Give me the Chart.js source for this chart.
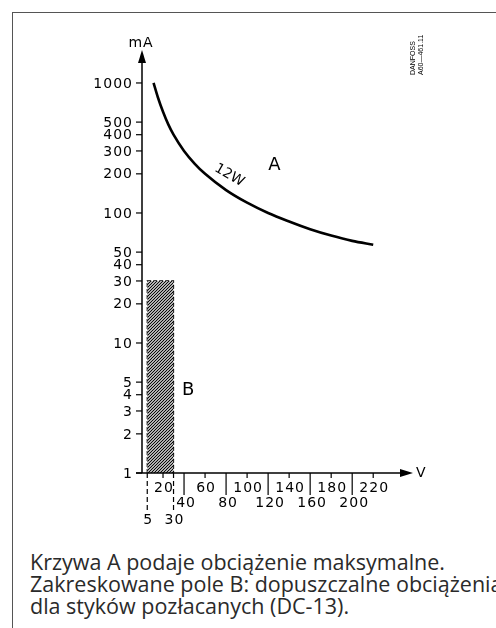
<!DOCTYPE html>
<html>
<head>
<meta charset="utf-8">
<script src="https://cdn.jsdelivr.net/npm/chart.js@4"></script>
<style>
html, body { margin: 0; padding: 0; background: #fff; }
#wrap { position: relative; width: 496px; height: 628px; overflow: hidden; }
#frame { position: absolute; left: 12px; top: 12px; width: 520px; height: 640px;
  border-top: 1.5px solid #555; border-left: 1.5px solid #555; }
#chart { position: absolute; left: 0; top: 0; }
#caption { position: absolute; left: 30px; top: 551px; font-family: "Open Sans", sans-serif;
  font-size: 21.5px; line-height: 22px; color: #2a2a2a; white-space: nowrap; }
</style>
</head>
<body>
<div id="wrap">
  <div id="frame"></div>
  <canvas id="chart" width="496" height="540"></canvas>
  <div id="caption">Krzywa A podaje obciążenie maksymalne.<br>Zakreskowane pole B: dopuszczalne obciążenia<br>dla styków pozłacanych (DC-13).</div>
</div>
<script>
// curve A (12 W)
var voltsA = [11, 15, 20, 25, 30, 40, 50, 60, 80, 100, 120, 140, 160, 180, 200, 220];
var currentA = [1000, 780, 600, 480, 400, 300, 240, 200, 150, 120, 100, 86, 75, 67, 61, 57];
// hatched field B
var voltsB = [5, 30];
var currentB = [30, 30];

var yTicks = [1, 2, 3, 4, 5, 10, 20, 30, 40, 50, 100, 200, 300, 400, 500, 1000];
var xTicksUpper = [20, 60, 100, 140, 180, 220];
var xTicksLower = [40, 80, 120, 160, 200];
var xTicksDashed = [5, 30];

var canvas = document.getElementById("chart");
var ctx0 = canvas.getContext("2d");

function makeHatch() {
  var c = document.createElement("canvas");
  c.width = 3; c.height = 3;
  var g = c.getContext("2d");
  g.fillStyle = "#fff"; g.fillRect(0, 0, 3, 3);
  g.strokeStyle = "#000"; g.lineWidth = 1.2;
  g.beginPath();
  g.moveTo(-1, 4); g.lineTo(4, -1);
  g.moveTo(-1, 1); g.lineTo(1, -1);
  g.moveTo(2, 4); g.lineTo(4, 2);
  g.stroke();
  return ctx0.createPattern(c, "repeat");
}

function toPoints(xs, ys) {
  var pts = [];
  for (var i = 0; i < xs.length; i++) pts.push({ x: xs[i], y: ys[i] });
  return pts;
}

var outlineB = [
  { x: voltsB[0], y: 1 }, { x: voltsB[0], y: currentB[0] },
  { x: voltsB[1], y: currentB[1] }, { x: voltsB[1], y: 1 }
];

var decor = {
  id: "decor",
  afterDraw: function(chart) {
    var ctx = chart.ctx;
    var xs = chart.scales.x, ys = chart.scales.y;
    var x0 = xs.getPixelForValue(0), y0 = ys.getPixelForValue(1);
    var i, p;
    ctx.save();
    ctx.strokeStyle = "#000"; ctx.fillStyle = "#000"; ctx.lineWidth = 1.5;

    // axes
    ctx.beginPath();
    ctx.moveTo(x0, y0); ctx.lineTo(x0, ys.top + 6);
    ctx.moveTo(x0 - 6, y0); ctx.lineTo(xs.right - 8, y0);
    ctx.stroke();
    // arrows
    ctx.beginPath();
    ctx.moveTo(x0, ys.top - 3); ctx.lineTo(x0 - 4, ys.top + 10); ctx.lineTo(x0 + 4, ys.top + 10); ctx.closePath();
    ctx.fill();
    ctx.beginPath();
    ctx.moveTo(xs.right + 3, y0); ctx.lineTo(xs.right - 10, y0 - 4); ctx.lineTo(xs.right - 10, y0 + 4); ctx.closePath();
    ctx.fill();

    // y ticks
    ctx.font = "14px 'DejaVu Sans'";
    ctx.letterSpacing = "1px";
    ctx.textAlign = "right"; ctx.textBaseline = "middle";
    ctx.lineWidth = 1.2;
    for (i = 0; i < yTicks.length; i++) {
      p = ys.getPixelForValue(yTicks[i]);
      ctx.beginPath(); ctx.moveTo(x0 - 6, p); ctx.lineTo(x0, p); ctx.stroke();
      ctx.fillText(String(yTicks[i]), x0 - 9, p + 1);
    }

    // x ticks
    ctx.textAlign = "center";
    for (i = 0; i < xTicksUpper.length; i++) {
      p = xs.getPixelForValue(xTicksUpper[i]);
      ctx.beginPath(); ctx.moveTo(p, y0); ctx.lineTo(p, y0 + 5); ctx.stroke();
      ctx.fillText(String(xTicksUpper[i]), p + 1, y0 + 15);
    }
    for (i = 0; i < xTicksLower.length; i++) {
      p = xs.getPixelForValue(xTicksLower[i]);
      ctx.beginPath(); ctx.moveTo(p, y0); ctx.lineTo(p, y0 + 22); ctx.stroke();
      ctx.fillText(String(xTicksLower[i]), p + 2, y0 + 30);
    }
    ctx.setLineDash([5, 3]);
    for (i = 0; i < xTicksDashed.length; i++) {
      p = xs.getPixelForValue(xTicksDashed[i]);
      ctx.beginPath(); ctx.moveTo(p, y0); ctx.lineTo(p, y0 + 38); ctx.stroke();
      ctx.fillText(String(xTicksDashed[i]), p + 1, y0 + 47);
    }
    ctx.setLineDash([]);

    // axis names
    ctx.textAlign = "center";
    ctx.fillText("mA", x0 - 1, ys.top - 10);
    ctx.textAlign = "left";
    ctx.fillText("V", xs.right + 6, y0);
    ctx.letterSpacing = "0px";

    // labels
    ctx.font = "18px 'DejaVu Sans'";
    ctx.textAlign = "center";
    ctx.fillText("A", xs.getPixelForValue(126), ys.getPixelForValue(234));
    ctx.fillText("B", xs.getPixelForValue(44), ys.getPixelForValue(4.35));
    ctx.save();
    ctx.translate(xs.getPixelForValue(83), ys.getPixelForValue(195));
    ctx.rotate(30 * Math.PI / 180);
    ctx.font = "14px 'DejaVu Sans'";
    ctx.fillText("12W", 0, 0);
    ctx.restore();

    // drawing id
    ctx.save();
    ctx.translate(417, 75);
    ctx.rotate(-Math.PI / 2);
    ctx.font = "7px 'Liberation Sans'";
    ctx.textAlign = "left";
    ctx.fillText("DANFOSS", 0, -4);
    ctx.fillText("A60\u2014461.11", 0, 4);
    ctx.restore();

    ctx.restore();
  }
};

var chart = new Chart(canvas, {
  type: "line",
  data: {
    datasets: [
      {
        label: "A 12W",
        data: toPoints(voltsA, currentA),
        borderColor: "#000",
        borderWidth: 2.6,
        pointRadius: 0,
        cubicInterpolationMode: "monotone",
        fill: false
      },
      {
        label: "B",
        data: toPoints(voltsB, currentB),
        borderWidth: 0,
        borderColor: "rgba(0,0,0,0)",
        backgroundColor: makeHatch(),
        pointRadius: 0,
        fill: "start"
      },
      {
        label: "B outline",
        data: outlineB,
        borderColor: "#000",
        borderWidth: 1.2,
        borderDash: [4, 2],
        pointRadius: 0,
        tension: 0,
        fill: false
      }
    ]
  },
  options: {
    responsive: false,
    animation: false,
    layout: { padding: { left: 142, right: 86, top: 53, bottom: 67 } },
    plugins: { legend: { display: false }, tooltip: { enabled: false } },
    scales: {
      x: { type: "linear", min: 0, max: 255, display: false },
      y: { type: "logarithmic", min: 1, max: 1700, display: false }
    }
  },
  plugins: [decor]
});
</script>
</body>
</html>
